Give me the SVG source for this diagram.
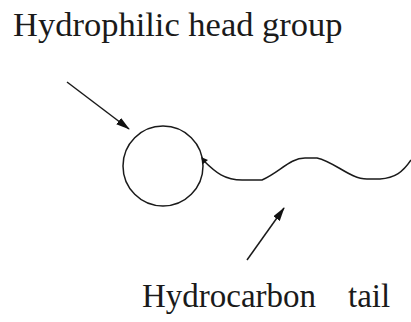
<svg xmlns="http://www.w3.org/2000/svg" width="411" height="322" viewBox="0 0 411 322">
<defs>
<marker id="ah" markerWidth="14" markerHeight="8" refX="13" refY="4" orient="auto" markerUnits="userSpaceOnUse"><path d="M0,0 L14,4 L0,8 z" fill="#111"/></marker>
</defs>
<style>
.lbl{font-family:"Liberation Serif","Times New Roman",serif;fill:#1a1a1a}
.ln{fill:none;stroke:#1a1a1a;stroke-width:1.5}
</style>
<rect width="411" height="322" fill="#fff"/>
<g id="head">
<circle class="ln" cx="163" cy="166" r="40"/>
</g>
<g id="tail">
<path class="ln" d="M203,160 C215,172 225,181 245,180 L262,180 C280,172 290,158 305,158 L317,158 C335,162 350,179 367,179 L380,179 C395,178 403,172 411,160"/>
<path d="M201,157 L208,160 L203,164 z" fill="#111"/>
</g>
<g id="connectors">
<line class="ln" x1="67" y1="82" x2="129" y2="129" marker-end="url(#ah)"/>
<line class="ln" x1="247" y1="260" x2="284" y2="208" marker-end="url(#ah)"/>
</g>
<g id="labels">
<text class="lbl" x="13" y="36" font-size="34.5">Hydrophilic head group</text>
<text class="lbl" x="142" y="307" font-size="33">Hydrocarbon</text>
<text class="lbl" x="348" y="307" font-size="33">tail</text>
</g>
</svg>
